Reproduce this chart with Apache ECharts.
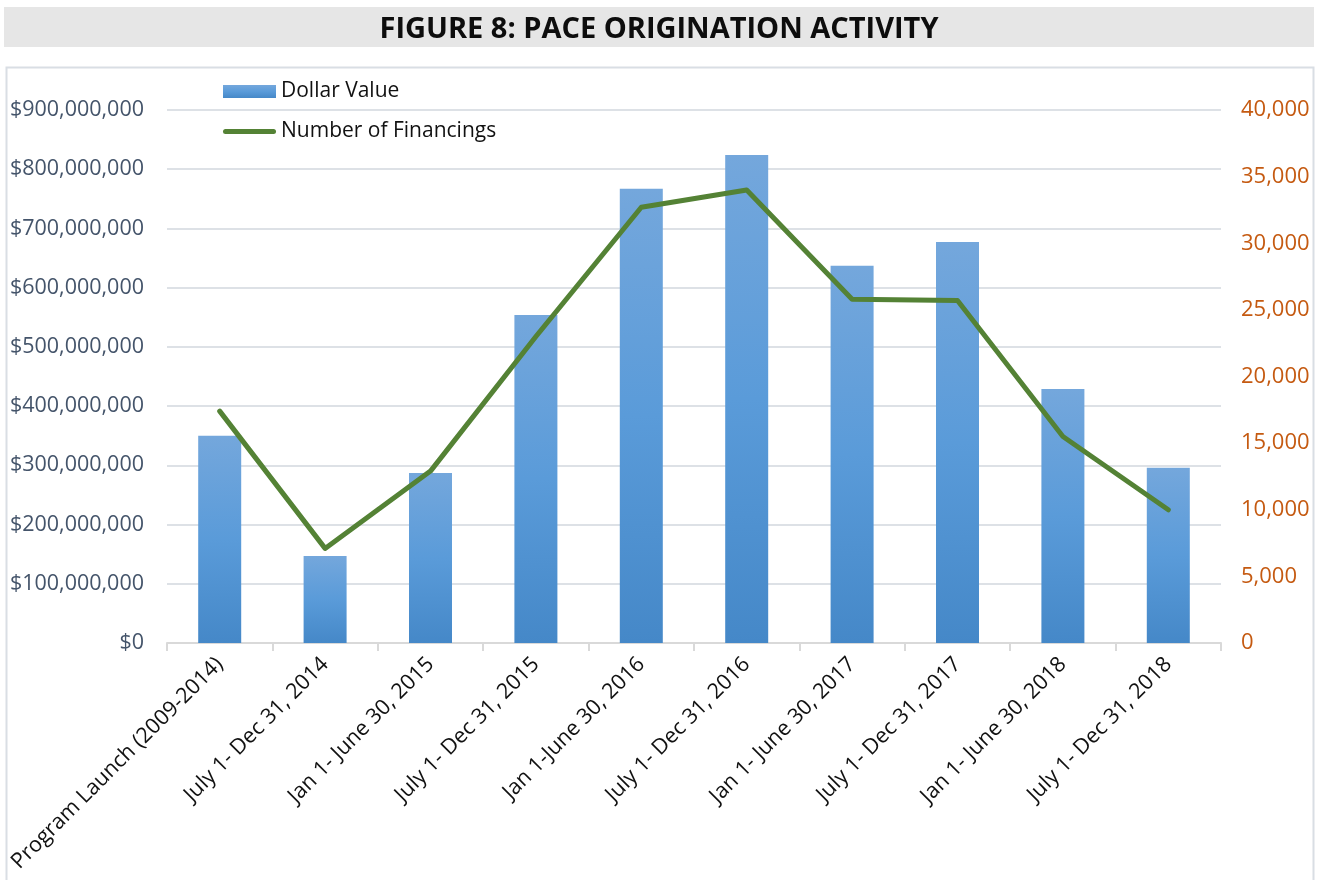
<!DOCTYPE html>
<html>
<head>
<meta charset="utf-8">
<script src="https://cdn.jsdelivr.net/npm/echarts@6/dist/echarts.min.js"></script>
<style>
html,body{margin:0;padding:0;background:#fff;}
#chart{width:1318px;height:880px;}
</style>
</head>
<body>
<div id="chart"></div>
<script>
const categories = [
  'Program Launch (2009-2014)',
  'July 1- Dec 31, 2014',
  'Jan 1- June 30, 2015',
  'July 1- Dec 31, 2015',
  'Jan 1-June 30, 2016',
  'July 1- Dec 31, 2016',
  'Jan 1- June 30, 2017',
  'July 1- Dec 31, 2017',
  'Jan 1- June 30, 2018',
  'July 1- Dec 31, 2018'
];
const dollarValues = [350000000, 147000000, 287000000, 554000000, 767000000, 824000000, 637000000, 677000000, 429000000, 296000000];
const financings = [17400, 7100, 12900, 23000, 32700, 34000, 25800, 25700, 15500, 10000];
const titleText = 'FIGURE 8: PACE ORIGINATION ACTIVITY';

const FONT = '"Open Sans", sans-serif';
function fmtNum(v){ return String(Math.round(v)).replace(/\B(?=(\d{3})+(?!\d))/g, ','); }

const chart = echarts.init(document.getElementById('chart'), null, {renderer:'canvas'});
chart.setOption({
  animation:false,
  backgroundColor:'#ffffff',
  graphic:[
    {type:'rect', z:-10, shape:{x:4, y:7, width:1310, height:40}, style:{fill:'#e6e6e6'}},
    {type:'rect', z:-10, shape:{x:6.5, y:67.5, width:1307, height:830}, style:{fill:'none', stroke:'#d9dee4', lineWidth:2}}
  ],
  title:{
    text:titleText,
    left:'center',
    top:10,
    textStyle:{fontFamily:FONT, fontWeight:'bold', fontSize:29, color:'#0d0d0d'}
  },
  legend:{
    orient:'vertical',
    left:218,
    top:76,
    itemGap:19,
    itemWidth:53,
    itemHeight:13,
    symbolKeepAspect:true,
    textStyle:{fontFamily:FONT, fontSize:21, color:'#111111'},
    data:[
      {name:'Dollar Value', icon:'rect'},
      {name:'Number of Financings', icon:'path://M2.5,0L50.5,0A2.5,2.5,0,0,1,50.5,5L2.5,5A2.5,2.5,0,0,1,2.5,0Z', itemStyle:{color:'#548235'}}
    ]
  },
  grid:{left:167, right:97, top:110, bottom:237, containLabel:false},
  xAxis:{
    type:'category',
    data:categories,
    boundaryGap:true,
    axisLine:{show:true, lineStyle:{color:'#d9d9d9', width:2}},
    axisTick:{show:true, alignWithLabel:false, length:8, lineStyle:{color:'#d9d9d9', width:2}},
    axisLabel:{rotate:45, interval:0, margin:18, fontFamily:FONT, fontSize:21.5, color:'#111111'}
  },
  yAxis:[
    {
      type:'value', min:0, max:900000000, interval:100000000,
      axisLine:{show:false}, axisTick:{show:false},
      splitLine:{show:true, lineStyle:{color:'#dde1e6', width:2}},
      axisLabel:{margin:23, fontFamily:FONT, fontSize:21.5, color:'#44546a', formatter:v=>'$'+fmtNum(v)}
    },
    {
      type:'value', min:0, max:40000, interval:5000,
      axisLine:{show:false}, axisTick:{show:false},
      splitLine:{show:false},
      axisLabel:{margin:20, fontFamily:FONT, fontSize:22, color:'#c55a11', formatter:v=>fmtNum(v)}
    }
  ],
  series:[
    {
      name:'Dollar Value',
      type:'bar',
      yAxisIndex:0,
      barWidth:43,
      data:dollarValues,
      itemStyle:{
        color:new echarts.graphic.LinearGradient(0,0,0,1,[
          {offset:0, color:'#74a7dc'},
          {offset:0.5, color:'#5a9bd9'},
          {offset:1, color:'#4588c8'}
        ])
      }
    },
    {
      name:'Number of Financings',
      type:'line',
      yAxisIndex:1,
      data:financings,
      symbol:'none',
      showSymbol:false,
      lineStyle:{color:'#548235', width:5, cap:'round', join:'round'},
      itemStyle:{color:'#548235'}
    }
  ]
});
</script>
</body>
</html>
